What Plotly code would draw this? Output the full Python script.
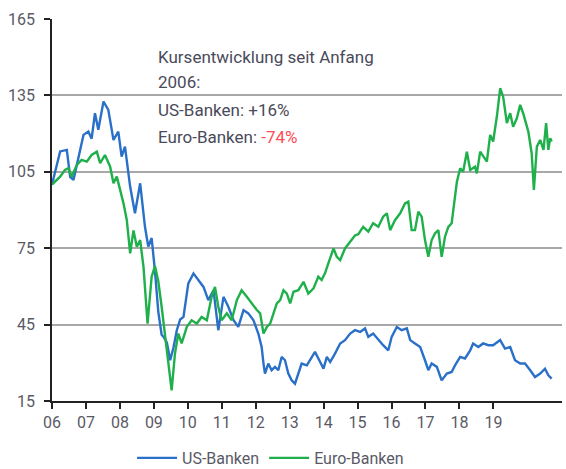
import plotly.graph_objects as go

# Decimal years and index values (start 2006 = 100)
us_x = [2006.00, 2006.22, 2006.40, 2006.49, 2006.58, 2006.71, 2006.85, 2006.98, 2007.07, 2007.16,
        2007.25, 2007.39, 2007.52, 2007.66, 2007.79, 2007.88, 2007.97, 2008.11, 2008.24, 2008.38,
        2008.51, 2008.60, 2008.69, 2008.78, 2008.87, 2008.96, 2009.02, 2009.10, 2009.19, 2009.28,
        2009.37, 2009.46, 2009.55, 2009.68, 2009.82, 2009.95, 2010.09, 2010.22, 2010.36, 2010.49,
        2010.63, 2010.76, 2010.90, 2011.03, 2011.17, 2011.30, 2011.44, 2011.57, 2011.66, 2011.71,
        2011.75, 2011.84, 2011.93, 2012.02, 2012.11, 2012.20, 2012.29, 2012.38, 2012.47, 2012.56,
        2012.65, 2012.74, 2012.88, 2013.01, 2013.10, 2013.24, 2013.33, 2013.42, 2013.51, 2013.64,
        2013.78, 2013.91, 2014.05, 2014.18, 2014.32, 2014.45, 2014.54, 2014.67, 2014.81, 2014.94,
        2015.08, 2015.17, 2015.31, 2015.44, 2015.58, 2015.67, 2015.80, 2015.94, 2016.07, 2016.16,
        2016.25, 2016.39, 2016.52, 2016.66, 2016.79, 2016.88, 2017.02, 2017.15, 2017.29, 2017.37,
        2017.51, 2017.64, 2017.78, 2017.91, 2018.10, 2018.23, 2018.37, 2018.50, 2018.64, 2018.77,
        2018.91, 2019.04, 2019.18, 2019.31, 2019.40, 2019.49]
us_y = [100.0, 113.0, 113.6, 103.0, 101.8, 111.0, 119.5, 120.8, 118.0, 128.0,
        121.5, 132.6, 129.3, 117.5, 120.8, 111.0, 114.9, 99.2, 88.7, 100.5,
        83.4, 75.6, 79.0, 66.0, 50.0, 41.0, 40.0, 38.0, 31.0, 36.0,
        42.8, 47.0, 48.0, 61.2, 65.1, 62.5, 59.8, 54.6, 58.5, 42.8,
        55.9, 52.0, 46.7, 44.1, 50.7, 49.4, 46.7, 41.5, 36.2, 29.7,
        25.8, 29.7, 27.1, 28.4, 27.1, 32.3, 31.0, 25.8, 23.1, 21.8,
        25.8, 29.7, 29.0, 32.3, 34.3, 30.3, 27.7, 32.3, 30.3, 33.6,
        37.6, 38.9, 41.5, 42.8, 42.1, 43.5, 40.2, 41.5, 38.9, 36.9,
        34.9, 40.2, 44.1, 42.8, 43.5, 38.9, 37.6, 36.2, 31.0, 27.1,
        29.7, 28.4, 23.1, 25.8, 26.4, 29.0, 32.3, 31.7, 34.9, 37.6,
        36.2, 37.6, 36.9, 36.9, 38.9, 35.6, 36.2, 31.0, 29.7, 29.7,
        27.1, 24.4, 25.8, 27.7, 25.1, 23.8]

eu_x = [2006.00, 2006.22, 2006.35, 2006.44, 2006.53, 2006.67, 2006.80, 2006.94, 2007.07, 2007.21,
        2007.30, 2007.43, 2007.57, 2007.66, 2007.75, 2007.84, 2007.93, 2008.02, 2008.11, 2008.20,
        2008.29, 2008.38, 2008.47, 2008.58, 2008.69, 2008.78, 2008.87, 2008.96, 2009.05, 2009.14,
        2009.23, 2009.32, 2009.41, 2009.50, 2009.64, 2009.77, 2009.91, 2010.04, 2010.18, 2010.31,
        2010.40, 2010.49, 2010.58, 2010.72, 2010.85, 2010.99, 2011.12, 2011.26, 2011.39, 2011.53,
        2011.62, 2011.71, 2011.80, 2011.89, 2011.98, 2012.07, 2012.16, 2012.25, 2012.34, 2012.43,
        2012.52, 2012.65, 2012.79, 2012.92, 2013.06, 2013.19, 2013.28, 2013.37, 2013.46, 2013.60,
        2013.69, 2013.78, 2013.91, 2014.05, 2014.18, 2014.27, 2014.40, 2014.54, 2014.67, 2014.81,
        2014.94, 2015.04, 2015.13, 2015.26, 2015.40, 2015.53, 2015.62, 2015.71, 2015.80, 2015.89,
        2015.98, 2016.07, 2016.16, 2016.25, 2016.34, 2016.43, 2016.52, 2016.61, 2016.70, 2016.79,
        2016.88, 2016.93, 2017.02, 2017.10, 2017.20, 2017.29, 2017.42, 2017.47, 2017.56, 2017.64,
        2017.74, 2017.83, 2017.91, 2018.01, 2018.10, 2018.18, 2018.28, 2018.37, 2018.45, 2018.55,
        2018.64, 2018.72, 2018.86, 2018.95, 2019.01, 2019.09, 2019.18, 2019.27, 2019.34, 2019.40,
        2019.45, 2019.49]
eu_y = [100.0, 103.1, 105.7, 106.4, 103.1, 107.7, 109.7, 109.0, 111.6, 112.9,
        108.4, 111.6, 107.0, 100.5, 103.1, 97.9, 92.6, 86.0, 73.0, 82.0,
        75.6, 78.2, 67.7, 45.4, 63.8, 68.0, 62.0, 52.0, 40.2, 28.4,
        19.2, 33.6, 41.5, 37.6, 44.1, 46.7, 45.4, 48.0, 46.7, 55.9,
        59.8, 52.0, 46.7, 49.4, 46.7, 54.6, 58.5, 55.9, 53.3, 50.7,
        49.4, 41.5, 44.1, 45.4, 49.4, 53.3, 54.6, 58.5, 57.2, 53.3,
        57.9, 58.5, 61.8, 57.2, 59.2, 63.8, 62.5, 65.1, 69.0, 74.9,
        71.6, 70.3, 74.9, 77.5, 80.0, 80.5, 83.4, 81.5, 84.8, 83.4,
        87.4, 88.7, 82.1, 86.0, 88.7, 92.6, 93.3, 82.1, 82.1, 89.3,
        87.4, 78.2, 71.6, 78.2, 80.8, 82.1, 71.6, 79.5, 83.4, 84.8,
        96.6, 101.0, 106.4, 105.0, 112.9, 105.7, 107.0, 104.4, 112.9, 111.0,
        109.0, 119.5, 116.9, 126.7, 137.8, 134.5, 124.1, 128.0, 122.7, 126.0,
        131.3, 128.0, 120.8, 112.3, 97.9, 114.9, 117.5, 113.6, 124.1, 113.6,
        118.2, 116.9]

tick_labels = ["06", "07", "08", "09", "10", "11", "12", "13", "14", "15", "16", "17", "18", "19"]
tick_vals = [2006 + k * 11 / 12 for k in range(len(tick_labels))]
y_ticks = [15, 45, 75, 105, 135, 165]

BLUE = "#2a70c8"
GREEN = "#1fb04c"
TXT = "#5a5a66"
FONT = "Roboto, Noto Sans, sans-serif"

fig = go.Figure()
fig.add_trace(go.Scatter(x=us_x, y=us_y, mode="lines", name="US-Banken",
                         line=dict(color=BLUE, width=2.4)))
fig.add_trace(go.Scatter(x=eu_x, y=eu_y, mode="lines", name="Euro-Banken",
                         line=dict(color=GREEN, width=2.4)))

W, H = 566, 469
L, R, T, B = 52, 4, 19, 68
x0 = 2006.0
x1 = x0 + (W - L - R) / 37.04

fig.update_layout(
    width=W, height=H,
    margin=dict(l=L, r=R, t=T, b=B),
    paper_bgcolor="white", plot_bgcolor="white",
    font=dict(family=FONT, color=TXT, size=15),
    showlegend=True,
    legend=dict(orientation="h", xref="container", yref="container",
                x=0.478, xanchor="center", y=1 - 458 / H, yanchor="middle",
                font=dict(size=16, color=TXT), itemwidth=40,
                traceorder="normal"),
    xaxis=dict(range=[x0, x1], tickvals=tick_vals, ticktext=tick_labels,
               showgrid=False, zeroline=False, showline=True,
               linecolor="#222222", linewidth=1.5,
               ticks="outside", ticklen=6, tickwidth=1.5, tickcolor="#222222",
               tickfont=dict(size=16, color=TXT), ticklabelstandoff=0),
    yaxis=dict(range=[15, 165], tickvals=y_ticks,
               showgrid=True, gridcolor="#a8a8a8", gridwidth=1.5,
               zeroline=False, showline=True,
               linecolor="#222222", linewidth=1.5,
               ticks="outside", ticklen=6, tickwidth=1.5, tickcolor="#222222",
               tickfont=dict(size=16, color=TXT), ticklabelstandoff=6),
)

def py(p):
    return (H - B - p) / (H - T - B)

ax = (156 - L) / (W - L - R)
lines = [("Kursentwicklung seit Anfang", 55),
         ("2006:", 80),
         ("US-Banken: +16%", 108),
         ("Euro-Banken: <span style='color:#ff4b55'>-74%</span>", 135)]
for txt, p in lines:
    fig.add_annotation(text=txt, xref="paper", yref="paper", x=ax, y=py(p + 1.5),
                       xanchor="left", yanchor="middle", showarrow=False,
                       font=dict(size=17, color="#4a4a5a", family=FONT))

fig.write_html("out.html")
